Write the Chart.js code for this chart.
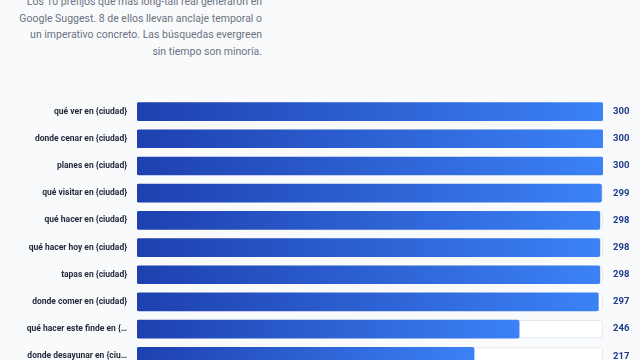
<!DOCTYPE html>
<html><head><meta charset="utf-8">
<script src="https://cdn.jsdelivr.net/npm/chart.js@4.4.1/dist/chart.umd.min.js"></script>
<style>
html,body{margin:0;padding:0;background:#f8fafc;overflow:hidden;width:640px;height:360px;}
#desc{position:absolute;left:0;top:-6px;width:262px;text-align:right;font-family:Roboto,sans-serif;font-size:10.5px;line-height:16.5px;color:#6b7280;}
#c{position:absolute;left:0;top:0;}
</style></head><body>
<div id="desc">Los 10 prefijos que más long-tail real generaron en<br>Google Suggest. 8 de ellos llevan anclaje temporal o<br>un imperativo concreto. Las búsquedas evergreen<br>sin tiempo son minoría.</div>
<canvas id="c" width="640" height="385" style="width:640px;height:385px"></canvas>
<script>
const categories = ["qué ver en {ciudad}","donde cenar en {ciudad}","planes en {ciudad}","qué visitar en {ciudad}","qué hacer en {ciudad}","qué hacer hoy en {ciudad}","tapas en {ciudad}","donde comer en {ciudad}","qué hacer este finde en {…","donde desayunar en {ciu…"];
const values = [300,300,300,299,298,298,298,297,246,217];
const axisMax = 300;

const trackPlugin = {
  id:'track',
  beforeDatasetsDraw(chart){
    const ctx=chart.ctx, xs=chart.scales.x, meta=chart.getDatasetMeta(0);
    const x0=xs.getPixelForValue(0), x1=xs.getPixelForValue(axisMax);
    ctx.save();
    meta.data.forEach(b=>{
      const h=b.height, y=b.y-h/2;
      ctx.beginPath();
      ctx.roundRect(x0+0.5,y+0.5,x1-x0-1,h-1,2);
      ctx.fillStyle='#ffffff';ctx.fill();
      ctx.strokeStyle='#e5e9f0';ctx.lineWidth=1;ctx.stroke();
    });
    ctx.restore();
  },
  afterDatasetsDraw(chart){
    const ctx=chart.ctx, meta=chart.getDatasetMeta(0), xs=chart.scales.x;
    ctx.save();
    ctx.font='bold 9.5px Roboto, sans-serif';
    ctx.fillStyle='#1e3a8a';ctx.textAlign='left';ctx.textBaseline='middle';
    meta.data.forEach((b,i)=>{ctx.fillText(String(values[i]), xs.getPixelForValue(axisMax)+10, b.y);});
    ctx.restore();
  }
};

new Chart(document.getElementById('c'),{
  type:'bar',
  data:{labels:categories,datasets:[{data:values,
    backgroundColor(ctx){
      const chart=ctx.chart;
      if(!chart.chartArea||!chart.scales.x) return '#2f5fd6';
      const xs=chart.scales.x;
      const v=values[ctx.dataIndex];
      const x0=xs.getPixelForValue(0), x1=xs.getPixelForValue(v);
      const g=chart.ctx.createLinearGradient(x0,0,x1,0);
      g.addColorStop(0,'#1e40af');g.addColorStop(1,'#3b82f6');
      return g;
    },
    borderRadius:2,borderSkipped:false,barThickness:18}]},
  options:{
    indexAxis:'y',responsive:false,animation:false,devicePixelRatio:1,
    layout:{padding:{top:98,bottom:4,left:0,right:37}},
    plugins:{legend:{display:false},tooltip:{enabled:false}},
    scales:{
      x:{display:false,min:0,max:axisMax},
      y:{grid:{display:false,drawTicks:false},border:{display:false},
        afterFit(s){s.width=137;},
        ticks:{padding:10,color:'#1f2937',font:{family:'Roboto',size:8.5,weight:'bold'},autoSkip:false}}
    }
  },
  plugins:[trackPlugin]
});
</script></body></html>
